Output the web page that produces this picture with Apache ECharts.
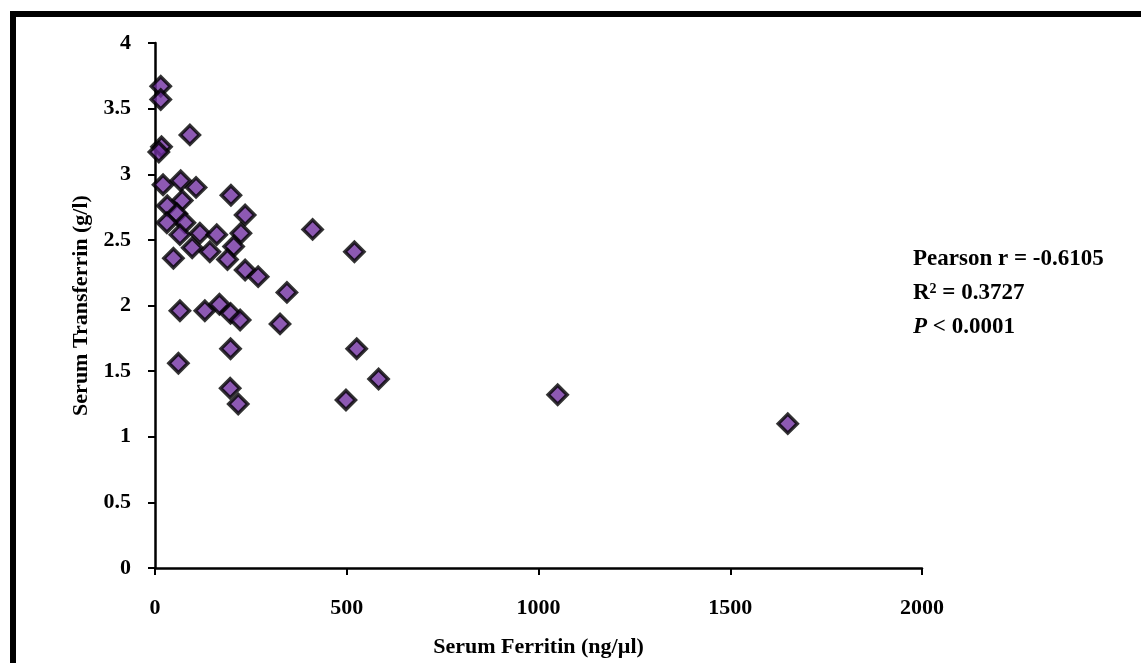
<!DOCTYPE html>
<html>
<head>
<meta charset="utf-8">
<script src="https://cdn.jsdelivr.net/npm/echarts@6/dist/echarts.min.js"></script>
<style>
  html, body { margin: 0; padding: 0; background: #fff; }
  #main { width: 1141px; height: 663px; }
</style>
</head>
<body>
<div id="main"></div>
<script>
// serum ferritin (ng/µl) vs serum transferrin (g/l)
const ferritin = [
  15, 15, 91, 17, 10, 21, 67, 107, 198, 71, 32, 235, 57, 78, 31,
  65, 117, 161, 224, 205, 97, 143, 48, 189, 235, 269, 344, 411, 520,
  65, 130, 168, 197, 222, 326, 197, 61, 196, 217, 526, 583, 498, 1050, 1650
]
const transferrin = [
  3.67, 3.57, 3.30, 3.21, 3.17, 2.92, 2.95, 2.90, 2.84, 2.80, 2.76, 2.69, 2.70, 2.63, 2.63,
  2.54, 2.55, 2.54, 2.55, 2.45, 2.44, 2.41, 2.36, 2.35, 2.27, 2.22, 2.10, 2.58, 2.41,
  1.96, 1.96, 2.01, 1.94, 1.89, 1.86, 1.67, 1.56, 1.37, 1.25, 1.67, 1.44, 1.28, 1.32, 1.10
]
const statLines = ['Pearson r = -0.6105', '{b|R}{sup|2}{b| = 0.3727}', '{i|P}{b| < 0.0001}']

const font = 'Liberation Serif, Times New Roman, serif'
const points = ferritin.map((x, i) => [x, transferrin[i]])

const chart = echarts.init(document.getElementById('main'))

const option = {
  animation: false,
  textStyle: { fontFamily: font },
  grid: { left: 155, top: 43, right: 219, bottom: 94, containLabel: false },
  xAxis: {
    type: 'value',
    min: 0,
    max: 2000,
    interval: 500,
    name: 'Serum Ferritin (ng/µl)',
    nameLocation: 'middle',
    nameGap: 68,
    nameTextStyle: { fontFamily: font, fontWeight: 'bold', fontSize: 22, color: '#000' },
    axisLine: { lineStyle: { color: '#000', width: 2.5 } },
    axisTick: { show: true, length: 7, lineStyle: { color: '#000', width: 2 } },
    axisLabel: { margin: 29, fontFamily: font, fontWeight: 'bold', fontSize: 22, color: '#000', formatter: v => String(v) },
    splitLine: { show: false }
  },
  yAxis: {
    type: 'value',
    min: 0,
    max: 4,
    interval: 0.5,
    name: 'Serum Transferrin (g/l)',
    nameLocation: 'middle',
    nameGap: 50,
    nameTextStyle: { fontFamily: font, fontWeight: 'bold', fontSize: 22, color: '#000' },
    axisLine: { show: true, lineStyle: { color: '#000', width: 2.5 } },
    axisTick: { show: true, length: 7, lineStyle: { color: '#000', width: 2 } },
    axisLabel: { margin: 24, fontFamily: font, fontWeight: 'bold', fontSize: 22, color: '#000' },
    splitLine: { show: false }
  },
  series: [{
    type: 'scatter',
    symbol: 'diamond',
    symbolSize: [19, 19],
    itemStyle: { color: '#7030A0', borderColor: '#000', borderWidth: 3.5 },
    data: points
  }],
  graphic: [
    {
      type: 'rect',
      left: 10, top: 11,
      shape: { width: 1200, height: 700 },
      style: { fill: 'none', stroke: '#000', lineWidth: 6 },
      silent: true
    },
    ...statLines.map((t, i) => ({
      type: 'text',
      left: 913,
      top: 248 + i * 34,
      style: {
        text: t,
        fontFamily: font,
        fontWeight: 'bold',
        fontSize: 23,
        fill: '#000',
        rich: {
          b: { fontFamily: font, fontWeight: 'bold', fontSize: 23, fill: '#000' },
          i: { fontFamily: font, fontWeight: 'bold', fontStyle: 'italic', fontSize: 23, fill: '#000' },
          sup: { fontFamily: font, fontWeight: 'bold', fontSize: 14, fill: '#000', verticalAlign: 'top', padding: [0, 0, 9, 0] }
        }
      }
    }))
  ]
}

chart.setOption(option)
</script>
</body>
</html>
